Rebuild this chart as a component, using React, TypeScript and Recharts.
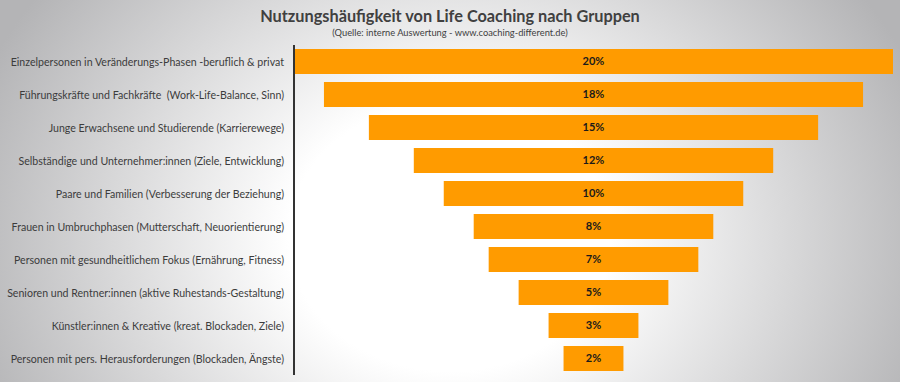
import { Bar, BarChart, LabelList, XAxis, YAxis } from 'recharts'

const groups = [
  'Einzelpersonen in Veränderungs-Phasen -beruflich & privat',
  'Führungskräfte und Fachkräfte  (Work-Life-Balance, Sinn)',
  'Junge Erwachsene und Studierende (Karrierewege)',
  'Selbständige und Unternehmer:innen (Ziele, Entwicklung)',
  'Paare und Familien (Verbesserung der Beziehung)',
  'Frauen in Umbruchphasen (Mutterschaft, Neuorientierung)',
  'Personen mit gesundheitlichem Fokus (Ernährung, Fitness)',
  'Senioren und Rentner:innen (aktive Ruhestands-Gestaltung)',
  'Künstler:innen & Kreative (kreat. Blockaden, Ziele)',
  'Personen mit pers. Herausforderungen (Blockaden, Ängste)',
]
const shares = [20, 18, 15, 12, 10, 8, 7, 5, 3, 2]

const maxShare = 20

// funnel look: an invisible spacer pushes each bar to the centre
const rows = groups.map((name, i) => ({
  name,
  pad: (maxShare - shares[i]) / 2,
  value: shares[i],
}))

function GroupTick({ x, y, payload }: { x: number; y: number; payload: { value: string } }) {
  return (
    <text x={x} y={y} dy={4} textAnchor="end" fontSize={10.6} fill="#3c3c3c" style={{ whiteSpace: 'pre' }}>
      {payload.value}
    </text>
  )
}

export default function App() {
  return (
    <div
      style={{
        position: 'relative',
        width: 900,
        height: 382,
        background: 'radial-gradient(ellipse 56% 110% at 50% 62%, #ffffff 32%, #b4b4b6 100%)',
        fontFamily: 'Lato, sans-serif',
      }}
    >
      <style>{'body{margin:0}'}</style>
      <div
        style={{
          position: 'absolute',
          top: 6,
          left: 0,
          width: 900,
          textAlign: 'center',
          fontSize: 16.3,
          fontWeight: 700,
          color: '#404040',
        }}
      >
        Nutzungshäufigkeit von Life Coaching nach Gruppen
      </div>
      <div
        style={{
          position: 'absolute',
          top: 27,
          left: 0,
          width: 900,
          textAlign: 'center',
          fontSize: 9.3,
          color: '#404040',
        }}
      >
        (Quelle: interne Auswertung - www.coaching-different.de)
      </div>
      <BarChart
        width={900}
        height={382}
        data={rows}
        layout="vertical"
        margin={{ top: 45, right: 7, bottom: 7, left: 0 }}
        barCategoryGap={4}
        style={{ position: 'absolute', top: 0, left: 0 }}
      >
        <XAxis type="number" domain={[0, maxShare]} hide />
        <YAxis
          type="category"
          dataKey="name"
          width={294}
          tickLine={false}
          tickSize={0}
          tickMargin={10}
          axisLine={{ stroke: '#333333', strokeWidth: 2 }}
          tick={GroupTick}
          interval={0}
        />
        <Bar dataKey="pad" stackId="f" fill="transparent" isAnimationActive={false} />
        <Bar dataKey="value" stackId="f" fill="#FF9B00" isAnimationActive={false}>
          <LabelList
            dataKey="value"
            position="center"
            formatter={(v: number) => `${v}%`}
            style={{ fontSize: 11, fontWeight: 700, fill: '#1a1a1a' }}
          />
        </Bar>
      </BarChart>
    </div>
  )
}
